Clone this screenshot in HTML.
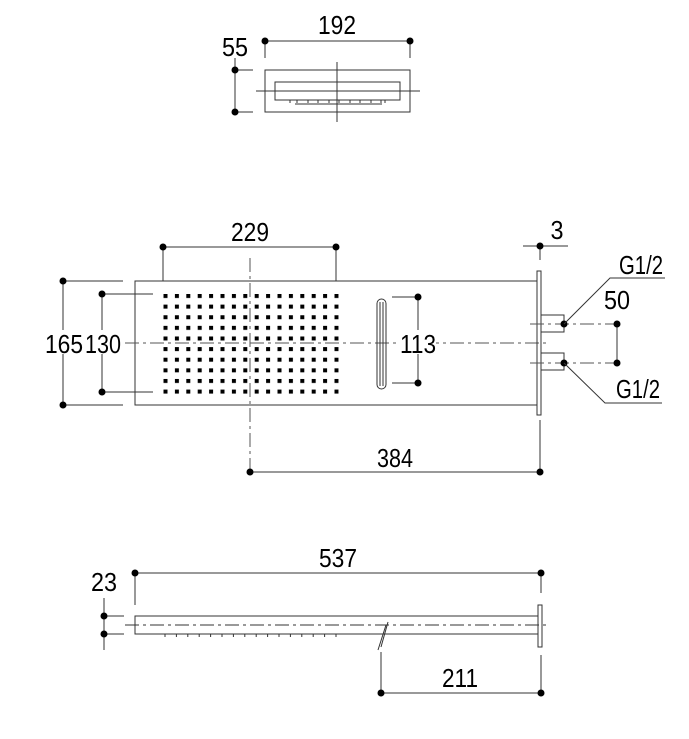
<!DOCTYPE html>
<html><head><style>
html,body{margin:0;padding:0;background:#fff;}
svg{display:block;}
text{font-family:"Liberation Sans",sans-serif;font-size:26px;fill:#000;text-anchor:middle;}
.l{stroke:#333;stroke-width:1;fill:none;}
.c{stroke:#555;stroke-width:1;fill:none;stroke-dasharray:14,4,3,4;}
</style></head><body>
<svg width="689" height="739" viewBox="0 0 689 739" xmlns="http://www.w3.org/2000/svg">
<defs>
<pattern id="dots" x="163.5" y="294" width="11.4" height="10.62" patternUnits="userSpaceOnUse">
<rect x="0" y="0" width="4" height="4" fill="#000"/>
</pattern>
</defs>
<text x="337" y="34" textLength="38" lengthAdjust="spacingAndGlyphs">192</text>
<text x="235" y="56" textLength="26" lengthAdjust="spacingAndGlyphs">55</text>
<line class="l" x1="265" y1="41" x2="410" y2="41"/>
<line class="l" x1="265" y1="41" x2="265" y2="58"/>
<line class="l" x1="410" y1="41" x2="410" y2="58"/>
<circle cx="265" cy="41" r="3.5"/><circle cx="410" cy="41" r="3.5"/>
<line class="l" x1="235" y1="58" x2="235" y2="112"/>
<line class="l" x1="235" y1="70" x2="253" y2="70"/>
<line class="l" x1="235" y1="112" x2="253" y2="112"/>
<circle cx="235" cy="70" r="3.5"/><circle cx="235" cy="112" r="3.5"/>
<rect class="l" x="265" y="70" width="145" height="42"/>
<rect class="l" x="275" y="82" width="125" height="18"/>
<line class="l" x1="256" y1="91" x2="420" y2="91"/>
<line x1="280" y1="91" x2="395" y2="91" stroke="#333" stroke-dasharray="5,3"/>
<line class="l" x1="337" y1="62" x2="337" y2="122"/>
<path class="l" d="M290 100 v3 M297 100 v3 M308 100 v3 M318 100 v3 M329 100 v3 M339 100 v3 M350 100 v3 M360 100 v3 M371 100 v3 M381 100 v3 M385 100 v3"/>
<line class="l" x1="295" y1="104" x2="382" y2="104"/>

<text x="250" y="241" textLength="38" lengthAdjust="spacingAndGlyphs">229</text>
<line class="l" x1="163" y1="247" x2="336" y2="247"/>
<line class="l" x1="163" y1="247" x2="163" y2="281"/>
<line class="l" x1="336" y1="247" x2="336" y2="281"/>
<circle cx="163" cy="247" r="3.5"/><circle cx="336" cy="247" r="3.5"/>
<rect class="l" x="135" y="281" width="402" height="124"/>
<rect x="163.5" y="294" width="175" height="100" fill="url(#dots)"/>
<line class="l" x1="63" y1="281" x2="63" y2="405"/>
<line class="l" x1="63" y1="281" x2="123" y2="281"/>
<line class="l" x1="63" y1="405" x2="123" y2="405"/>
<circle cx="63" cy="281" r="3.5"/><circle cx="63" cy="405" r="3.5"/>
<line class="l" x1="102" y1="294" x2="102" y2="392"/>
<line class="l" x1="102" y1="294" x2="153" y2="294"/>
<line class="l" x1="102" y1="392" x2="153" y2="392"/>
<circle cx="102" cy="294" r="3.5"/><circle cx="102" cy="392" r="3.5"/>
<rect x="45" y="330" width="78" height="24" fill="#fff"/>
<text x="64" y="353" textLength="38" lengthAdjust="spacingAndGlyphs">165</text>
<text x="103" y="353" textLength="36" lengthAdjust="spacingAndGlyphs">130</text>
<line class="c" x1="125" y1="343" x2="550" y2="343"/>
<line class="c" x1="250" y1="258" x2="250" y2="470"/>
<rect class="l" x="377" y="299" width="9" height="90" rx="4.5"/>
<line class="l" x1="380" y1="302" x2="380" y2="386"/><line class="l" x1="383" y1="302" x2="383" y2="386"/>
<line class="l" x1="418" y1="297" x2="418" y2="383"/>
<line class="l" x1="392" y1="297" x2="418" y2="297"/>
<line class="l" x1="392" y1="383" x2="418" y2="383"/>
<circle cx="418" cy="297" r="3.5"/><circle cx="418" cy="383" r="3.5"/>
<rect x="400" y="330" width="36" height="24" fill="#fff"/>
<text x="418" y="353" textLength="36" lengthAdjust="spacingAndGlyphs">113</text>
<rect class="l" x="537" y="271" width="4" height="144"/>
<text x="557" y="239" textLength="13" lengthAdjust="spacingAndGlyphs">3</text>
<line class="l" x1="523" y1="246" x2="568" y2="246"/>
<line class="l" x1="540" y1="246" x2="540" y2="260"/>
<circle cx="540" cy="246" r="3.5"/>
<rect class="l" x="541" y="315" width="23" height="17"/>
<rect class="l" x="541" y="353" width="23" height="17"/>
<line class="c" x1="530" y1="324" x2="617" y2="324"/>
<line class="c" x1="530" y1="363" x2="617" y2="363"/>
<line class="l" x1="617" y1="324" x2="617" y2="363"/>
<circle cx="564" cy="324" r="3.5"/><circle cx="564" cy="363" r="3.5"/>
<circle cx="617" cy="324" r="3.5"/><circle cx="617" cy="363" r="3.5"/>
<text x="617" y="309" textLength="26" lengthAdjust="spacingAndGlyphs">50</text>
<polyline class="l" points="564,324 610,278 665,278"/>
<polyline class="l" points="564,363 605,403 662,403"/>
<text x="641" y="274" textLength="44" lengthAdjust="spacingAndGlyphs">G1/2</text>
<text x="638" y="398" textLength="44" lengthAdjust="spacingAndGlyphs">G1/2</text>
<line class="l" x1="250" y1="472" x2="540" y2="472"/>
<line class="l" x1="540" y1="420" x2="540" y2="472"/>
<circle cx="250" cy="472" r="3.5"/><circle cx="540" cy="472" r="3.5"/>
<text x="395" y="467" textLength="36" lengthAdjust="spacingAndGlyphs">384</text>

<text x="338" y="567" textLength="38" lengthAdjust="spacingAndGlyphs">537</text>
<line class="l" x1="135" y1="573" x2="541" y2="573"/>
<line class="l" x1="135" y1="573" x2="135" y2="605"/>
<line class="l" x1="541" y1="573" x2="541" y2="593"/>
<circle cx="135" cy="573" r="3.5"/><circle cx="541" cy="573" r="3.5"/>
<text x="104" y="591" textLength="26" lengthAdjust="spacingAndGlyphs">23</text>
<line class="l" x1="104" y1="598" x2="104" y2="650"/>
<line class="l" x1="104" y1="616" x2="124" y2="616"/>
<line class="l" x1="104" y1="634" x2="124" y2="634"/>
<circle cx="104" cy="616" r="3.5"/><circle cx="104" cy="634" r="3.5"/>
<rect class="l" x="135" y="616" width="403" height="18"/>
<rect class="l" x="538" y="605" width="4" height="42"/>
<line class="l" x1="125" y1="625" x2="548" y2="625" stroke-dasharray="14,4,3,4"/>
<path class="l" d="M165 634v3 M176.4 634v3 M187.8 634v3 M199.2 634v3 M210.6 634v3 M222 634v3 M233.4 634v3 M244.8 634v3 M256.2 634v3 M267.6 634v3 M279 634v3 M290.4 634v3 M301.8 634v3 M313.2 634v3 M324.6 634v3 M336 634v3"/>
<path class="l" d="M378 650 L386 625 M381 647 L388 622"/>
<line class="l" x1="381" y1="652" x2="381" y2="693"/>
<line class="l" x1="541" y1="655" x2="541" y2="693"/>
<line class="l" x1="381" y1="693" x2="541" y2="693"/>
<circle cx="381" cy="693" r="3.5"/><circle cx="541" cy="693" r="3.5"/>
<text x="460" y="687" textLength="36" lengthAdjust="spacingAndGlyphs">211</text>
</svg>
</body></html>
